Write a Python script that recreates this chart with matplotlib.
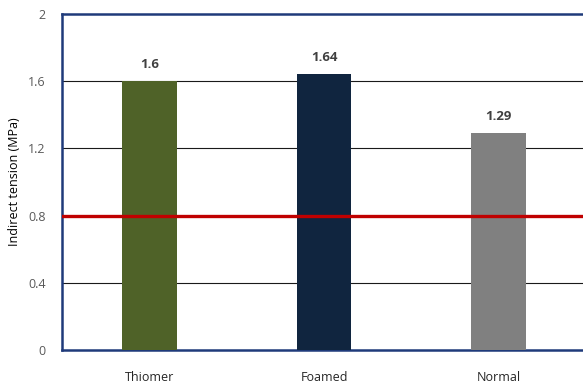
import matplotlib.pyplot as plt

categories = ["Thiomer", "Foamed", "Normal"]
values = [1.6, 1.64, 1.29]
bar_colors = ["#4F6228", "#10253F", "#808080"]
threshold = 0.8
yticks = [0, 0.4, 0.8, 1.2, 1.6, 2]
ytick_labels = ["0", "0.4", "0.8", "1.2", "1.6", "2"]

plt.rcParams['font.family'] = ['Open Sans', 'DejaVu Sans']

fig = plt.figure(figsize=(5.83, 3.87), dpi=100)
ax = fig.add_axes([62.25 / 583, 37 / 387, 523.5 / 583, 336 / 387])

x = list(range(len(categories)))
ax.bar(x, values, width=0.315, color=bar_colors, zorder=3)

for xi, v in zip(x, values):
    ax.text(xi, v + 0.06, f"{v:g}", ha="center", va="bottom",
            fontsize=9.5, fontweight="bold", color="#404040", zorder=4)

for t in yticks[1:-1]:
    if t != threshold:
        ax.axhline(t, color="#1a1a1a", linewidth=0.8, zorder=1)
ax.axhline(threshold, color="#C00000", linewidth=2.4, zorder=5)

ax.set_xlim(-0.5, 2.5)
ax.set_ylim(0, 2)
ax.set_yticks(yticks)
ax.set_yticklabels(ytick_labels, color="#595959", fontsize=9)
ax.set_xticks(x)
ax.set_xticklabels(categories, color="#262626", fontsize=9)
ax.tick_params(axis="y", length=0, pad=12)
ax.tick_params(axis="x", length=0, pad=15)
ax.set_ylabel("Indirect tension (MPa)", fontsize=9, color="black", labelpad=5)

for side in ["left", "top", "bottom", "right"]:
    ax.spines[side].set_color("#1F3A7A")
    ax.spines[side].set_linewidth(1.8)

fig.savefig("out.png", dpi=100)
